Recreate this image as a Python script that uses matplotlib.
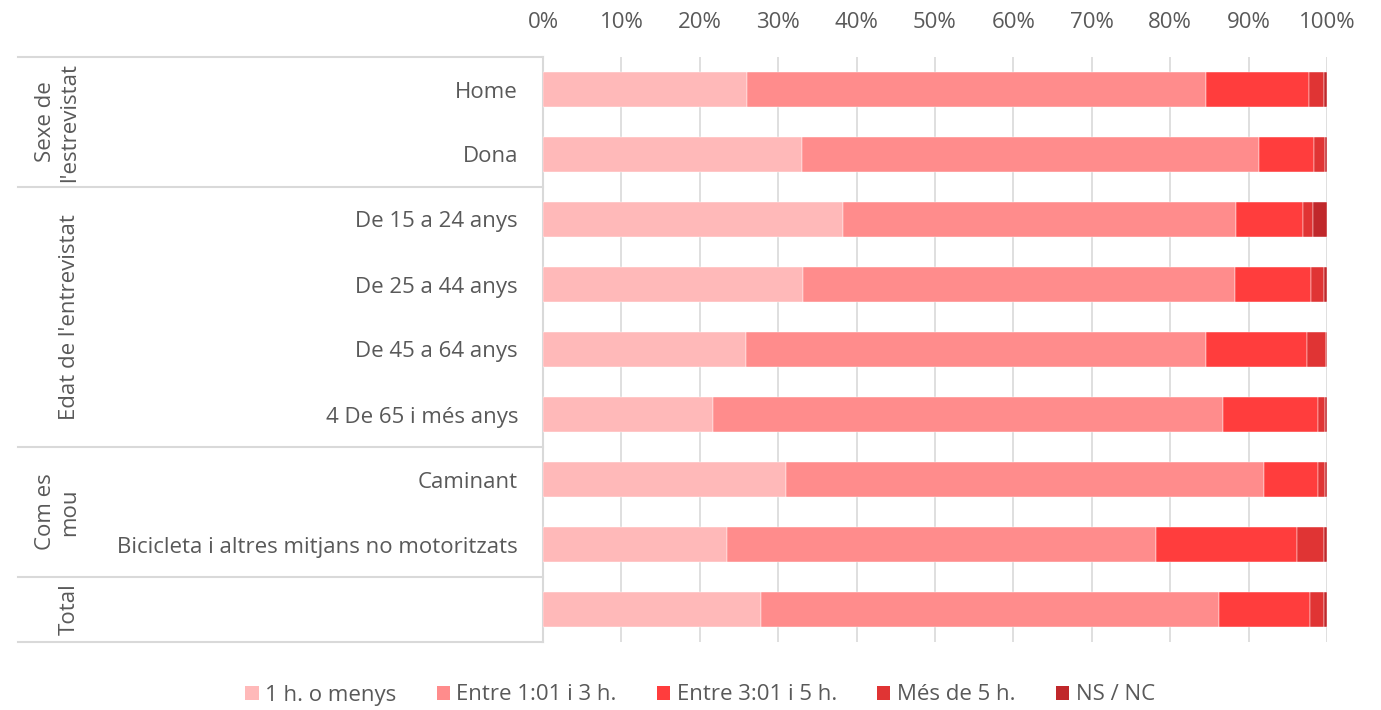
import matplotlib
matplotlib.use("Agg")
import matplotlib.pyplot as plt
from matplotlib.patches import Patch

plt.rcParams['font.family'] = ['Open Sans', 'DejaVu Sans']

categories = ["Home", "Dona", "De 15 a 24 anys", "De 25 a 44 anys", "De 45 a 64 anys",
              "4 De 65 i més anys", "Caminant", "Bicicleta i altres mitjans no motoritzats", ""]
series_names = ["1 h. o menys", "Entre 1:01 i 3 h.", "Entre 3:01 i 5 h.", "Més de 5 h.", "NS / NC"]
s1 = [26.0, 33.0, 38.3, 33.2, 25.9, 21.7, 31.0, 23.5, 27.8]
s2 = [58.6, 58.3, 50.1, 55.1, 58.7, 65.0, 61.0, 54.7, 58.4]
s3 = [13.1, 7.0, 8.6, 9.6, 12.9, 12.2, 6.9, 18.0, 11.6]
s4 = [1.9, 1.5, 1.2, 1.7, 2.4, 0.9, 0.8, 3.4, 1.8]
s5 = [0.4, 0.2, 1.8, 0.4, 0.1, 0.2, 0.3, 0.4, 0.4]
groups = ["Sexe de\nl'estrevistat", "Edat de l'entrevistat", "Com es\nmou", "Total"]
group_sizes = [2, 4, 2, 1]
xticks = [0, 10, 20, 30, 40, 50, 60, 70, 80, 90, 100]

colors = ["#FFB9B9", "#FF8C8C", "#FF3D3D", "#E03434", "#C0282B"]
text_color = "#595959"
grid_color = "#D9D9D9"
FS = 16

W, H = 1381, 710
fig = plt.figure(figsize=(W / 100, H / 100), dpi=100)
ax = fig.add_axes([543 / W, 1 - 642 / H, (1327 - 543) / W, (642 - 57) / H])

series = [s1, s2, s3, s4, s5]
y = list(range(len(categories)))
left = [0.0] * len(categories)
for name, vals, c in zip(series_names, series, colors):
    ax.barh(y, vals, left=left, height=0.55, color=c, label=name, zorder=3,
            edgecolor='white', linewidth=0.3)
    left = [l + v for l, v in zip(left, vals)]

ax.set_xlim(0, 100)
ax.set_ylim(len(categories) - 0.5, -0.5)
ax.set_xticks(xticks)
ax.set_xticklabels([f"{t}%" for t in xticks])
ax.xaxis.tick_top()
ax.tick_params(axis='x', length=0, pad=17, labelsize=FS, labelcolor=text_color)
ax.set_yticks(y)
ax.set_yticklabels(categories)
ax.tick_params(axis='y', length=0, pad=18, labelsize=FS, labelcolor=text_color)
ax.grid(axis='x', color=grid_color, linewidth=1.2, zorder=0)
for s in ['top', 'right', 'bottom']:
    ax.spines[s].set_visible(False)
ax.spines['left'].set_color(grid_color)
ax.spines['left'].set_linewidth(1.5)

# group separators and labels
x0 = (18 - 543) / (1327 - 543)
bounds = [-0.5]
for g in group_sizes:
    bounds.append(bounds[-1] + g)
for b in bounds:
    ax.plot([x0, 0], [b, b], transform=ax.get_yaxis_transform(), color=grid_color,
            linewidth=1.5, clip_on=False)
xl = (80 - 543) / (1327 - 543)
for i, g in enumerate(groups):
    yc = (bounds[i] + bounds[i + 1]) / 2
    ax.text(xl, yc, g, transform=ax.get_yaxis_transform(), rotation=90, ha='right',
            va='center', multialignment='center', fontsize=FS, color=text_color,
            linespacing=1.2)

handles = [Patch(facecolor=c, edgecolor='none') for c in colors]
fig.legend(handles, series_names, loc='center', bbox_to_anchor=(700 / W, 1 - 695 / H),
           ncol=5, frameon=False, fontsize=FS, labelcolor=text_color,
           handlelength=0.6, handleheight=0.6, handletextpad=0.3, columnspacing=1.8)

fig.savefig("out.png", dpi=100)
